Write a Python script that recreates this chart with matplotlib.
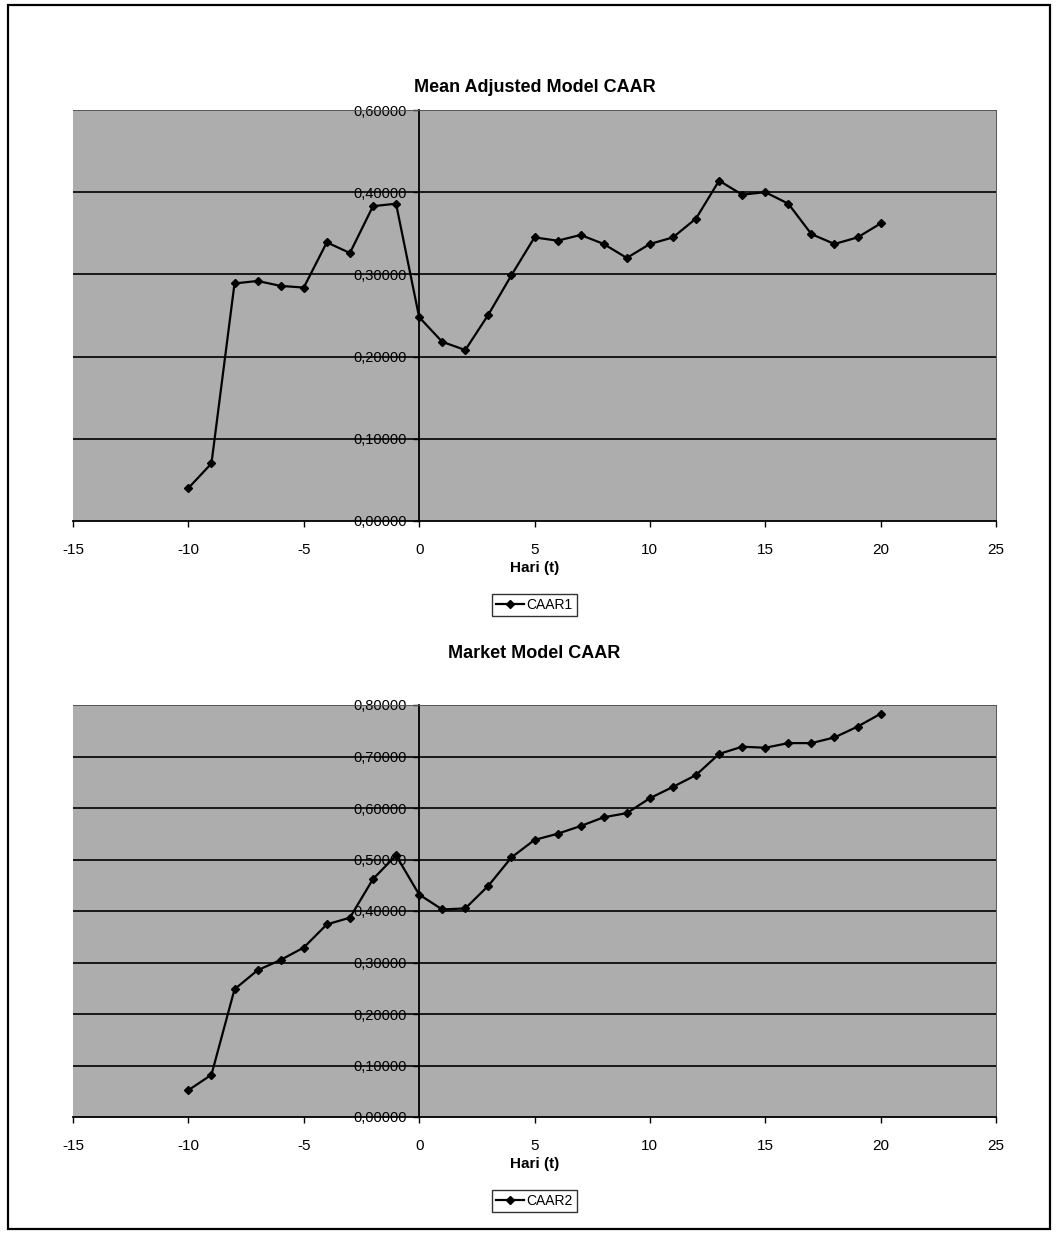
import matplotlib
matplotlib.use("Agg")
import matplotlib.pyplot as plt
from matplotlib.patches import Rectangle

plt.rcParams["font.family"] = ["Liberation Sans", "DejaVu Sans"]
plt.rcParams["axes.unicode_minus"] = False

# event window (days)
days = list(range(-10, 21))

# Mean Adjusted Model CAAR
caar1 = [0.040, 0.070, 0.289, 0.292, 0.286, 0.284, 0.339, 0.326, 0.383, 0.386,
         0.248, 0.218, 0.208, 0.251, 0.299, 0.345, 0.341, 0.348, 0.337, 0.320,
         0.337, 0.345, 0.368, 0.414, 0.397, 0.400, 0.386, 0.349, 0.337, 0.345, 0.362]

# Market Model CAAR
caar2 = [0.052, 0.082, 0.248, 0.285, 0.305, 0.329, 0.374, 0.387, 0.462, 0.508,
         0.432, 0.403, 0.405, 0.449, 0.504, 0.538, 0.550, 0.565, 0.582, 0.590,
         0.619, 0.641, 0.664, 0.705, 0.719, 0.717, 0.726, 0.726, 0.737, 0.758, 0.783]

titles = ["Mean Adjusted Model CAAR", "Market Model CAAR"]
labels = ["CAAR1", "CAAR2"]
x_ticks = [-15, -10, -5, 0, 5, 10, 15, 20, 25]

# y ticks as printed on the scan (top label of the first chart reads 0,60000)
y_ticks1 = [0.0, 0.1, 0.2, 0.3, 0.4, 0.5]
y_labels1 = ["0,00000", "0,10000", "0,20000", "0,30000", "0,40000", "0,60000"]
y_ticks2 = [0.0, 0.1, 0.2, 0.3, 0.4, 0.5, 0.6, 0.7, 0.8]
y_labels2 = ["0,00000", "0,10000", "0,20000", "0,30000", "0,40000",
             "0,50000", "0,60000", "0,70000", "0,80000"]

W, H = 1056, 1233


def fy(px):
    """pixel row -> figure fraction"""
    return 1 - px / H


def draw_panel(fig, top_px, bottom_px, values, title, label, yticks, ylabels,
               title_px, xlabel_px, legend_px):
    left, right = 73 / W, 996 / W
    ax = fig.add_axes([left, fy(bottom_px), right - left, fy(top_px) - fy(bottom_px)])
    ax.set_facecolor("#adadad")

    ax.set_xlim(-15, 25)
    ax.set_ylim(yticks[0], yticks[-1])
    ax.set_xticks(x_ticks)
    ax.set_yticks(yticks)
    ax.set_yticklabels(ylabels)

    # horizontal gridlines (not on the bottom / top edge)
    for g in yticks[1:-1]:
        ax.axhline(g, color="black", lw=1.2, zorder=1)

    ax.plot(days, values, color="black", lw=1.6, marker="D", markersize=4,
            label=label, zorder=3)

    # y axis crosses at x = 0
    ax.spines["left"].set_position(("data", 0))
    ax.spines["left"].set_linewidth(1.3)
    ax.spines["bottom"].set_linewidth(1.3)
    for s in ["top", "right"]:
        ax.spines[s].set_color("#555555")
        ax.spines[s].set_linewidth(0.7)

    ax.tick_params(axis="y", direction="out", length=4, width=1, pad=5,
                   labelsize=10.5, colors="black")
    ax.tick_params(axis="x", direction="out", length=4, width=1, pad=12,
                   labelsize=11)
    for t in ax.get_yticklabels():
        t.set_zorder(4)

    cx = (73 + 996) / 2 / W
    fig.text(cx, fy(title_px), title, ha="center", va="center",
             fontsize=13, fontweight="bold")
    fig.text(cx, fy(xlabel_px), "Hari (t)", ha="center", va="center",
             fontsize=11, fontweight="bold")

    leg = ax.legend(loc="center", bbox_to_anchor=(cx, fy(legend_px)),
                    bbox_transform=fig.transFigure, fontsize=10, frameon=True,
                    fancybox=False, edgecolor="black", handlelength=2.0,
                    borderpad=0.3, handletextpad=0.2, borderaxespad=0)
    leg.get_frame().set_linewidth(1.0)
    return ax


fig = plt.figure(figsize=(W / 100, H / 100), dpi=100)

draw_panel(fig, 110, 521, caar1, titles[0], labels[0], y_ticks1, y_labels1,
           title_px=88, xlabel_px=568, legend_px=605)
draw_panel(fig, 705, 1117, caar2, titles[1], labels[1], y_ticks2, y_labels2,
           title_px=653, xlabel_px=1164, legend_px=1201)

# outer frame
fig.patches.append(Rectangle((8 / W, fy(1229)), (1050 - 8) / W, (1229 - 5) / H,
                             transform=fig.transFigure, fill=False,
                             edgecolor="black", lw=1.6))

fig.savefig("out.png", dpi=100)
